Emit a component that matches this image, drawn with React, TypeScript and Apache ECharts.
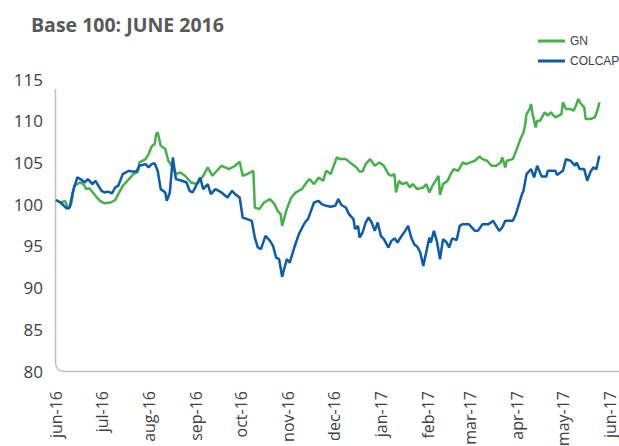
import React, { useEffect, useRef } from "react";
import * as echarts from "echarts";

const titleText = "Base 100: JUNE 2016";
const seriesNames = ["GN", "COLCAP"];
const seriesColors = ["#47b04b", "#0b5cab"];

const monthStarts = [
  "2016-06-01", "2016-07-01", "2016-08-01", "2016-09-01", "2016-10-01", "2016-11-01", "2016-12-01",
  "2017-01-01", "2017-02-01", "2017-03-01", "2017-04-01", "2017-05-01", "2017-06-01",
];
const xTickLabels = [
  "jun-16", "jul-16", "aug-16", "sep-16", "oct-16", "nov-16", "dec-16",
  "jan-17", "feb-17", "mar-17", "apr-17", "may-17", "jun-17",
];

const gnDates = [
  "2016-06-01","2016-06-04","2016-06-07","2016-06-09","2016-06-11","2016-06-13","2016-06-17","2016-06-19","2016-06-21","2016-06-23","2016-06-27","2016-06-30",
  "2016-07-03","2016-07-07","2016-07-10","2016-07-12","2016-07-15","2016-07-19","2016-07-22","2016-07-25","2016-07-26","2016-07-30",
  "2016-08-01","2016-08-03","2016-08-05","2016-08-06","2016-08-07","2016-08-09","2016-08-12","2016-08-14","2016-08-17","2016-08-19","2016-08-22","2016-08-25","2016-08-29",
  "2016-09-02","2016-09-06","2016-09-09","2016-09-12","2016-09-18","2016-09-23","2016-09-27","2016-09-30",
  "2016-10-02","2016-10-05","2016-10-09","2016-10-10","2016-10-13","2016-10-16","2016-10-20","2016-10-23","2016-10-25","2016-10-27","2016-10-28","2016-10-31",
  "2016-11-03","2016-11-06","2016-11-10","2016-11-13","2016-11-15","2016-11-18","2016-11-21","2016-11-24","2016-11-26","2016-11-29",
  "2016-12-03","2016-12-05","2016-12-09","2016-12-13","2016-12-16","2016-12-18","2016-12-20","2016-12-22","2016-12-25","2016-12-28","2016-12-31",
  "2017-01-03","2017-01-06","2017-01-08","2017-01-10","2017-01-11","2017-01-13","2017-01-15","2017-01-18","2017-01-20","2017-01-22","2017-01-25","2017-01-29","2017-01-31",
  "2017-02-02","2017-02-04","2017-02-06","2017-02-08","2017-02-09","2017-02-11","2017-02-14","2017-02-16","2017-02-18","2017-02-21","2017-02-24","2017-02-26",
  "2017-03-01","2017-03-04","2017-03-07","2017-03-09","2017-03-12","2017-03-15","2017-03-18","2017-03-21","2017-03-22","2017-03-24","2017-03-25","2017-03-29",
  "2017-04-01","2017-04-03","2017-04-05","2017-04-06","2017-04-07","2017-04-09","2017-04-10","2017-04-11","2017-04-13","2017-04-14","2017-04-16","2017-04-19","2017-04-21","2017-04-23","2017-04-26","2017-04-30",
  "2017-05-01","2017-05-03","2017-05-06","2017-05-08","2017-05-10","2017-05-11","2017-05-13","2017-05-15","2017-05-16","2017-05-19","2017-05-22","2017-05-24","2017-05-25",
];
const gnValues = [
  100.5,100.2,100.4,99.4,100.0,102.2,102.6,102.4,101.8,101.9,101.0,100.4,
  100.1,100.2,100.5,101.2,102.2,103.0,103.6,103.9,105.0,105.4,
  106.0,106.9,107.2,108.4,108.6,107.0,106.6,105.2,104.4,103.6,103.8,103.4,102.6,
  102.4,103.4,104.4,103.4,104.6,104.2,104.6,105.1,
  103.4,103.6,104.0,99.6,99.4,100.2,100.6,100.0,99.2,98.8,97.4,99.4,
  100.8,101.4,101.8,102.6,103.0,102.4,103.2,102.8,104.0,103.6,
  105.6,105.4,105.4,104.8,104.4,103.9,103.9,104.8,105.4,104.6,105.0,
  104.6,103.6,103.4,103.6,101.4,102.8,102.4,102.6,102.0,102.4,101.8,102.0,102.4,
  101.4,102.2,102.8,103.4,101.1,102.4,102.8,103.6,104.2,104.0,105.0,104.8,
  105.0,105.2,105.7,105.4,105.2,104.6,104.6,105.0,105.6,104.4,105.2,105.4,
  106.8,107.8,108.6,109.4,110.8,111.4,112.0,110.8,109.2,110.0,110.0,111.0,110.6,111.0,110.4,110.8,
  112.2,111.4,111.4,111.2,112.0,112.6,112.0,111.6,110.2,110.2,110.4,111.4,112.2,
];

const colcapDates = [
  "2016-06-01","2016-06-04","2016-06-08","2016-06-10","2016-06-12","2016-06-15","2016-06-18","2016-06-20","2016-06-22","2016-06-25","2016-06-27","2016-06-29",
  "2016-07-01","2016-07-03","2016-07-05","2016-07-08","2016-07-10","2016-07-12","2016-07-15","2016-07-19","2016-07-21","2016-07-24","2016-07-26","2016-07-30",
  "2016-08-01","2016-08-03","2016-08-05","2016-08-07","2016-08-09","2016-08-12","2016-08-13","2016-08-15","2016-08-17","2016-08-19","2016-08-23","2016-08-26","2016-08-28","2016-08-30",
  "2016-09-04","2016-09-06","2016-09-09","2016-09-11","2016-09-14","2016-09-18","2016-09-22","2016-09-25","2016-09-27","2016-09-30",
  "2016-10-02","2016-10-05","2016-10-08","2016-10-10","2016-10-12","2016-10-14","2016-10-17","2016-10-20","2016-10-22","2016-10-24","2016-10-26","2016-10-28","2016-10-31",
  "2016-11-02","2016-11-05","2016-11-08","2016-11-12","2016-11-14","2016-11-16","2016-11-18","2016-11-21","2016-11-23","2016-11-26","2016-11-29",
  "2016-12-02","2016-12-04","2016-12-06","2016-12-09","2016-12-11","2016-12-14","2016-12-15","2016-12-17","2016-12-18","2016-12-20","2016-12-22","2016-12-24","2016-12-26","2016-12-28","2016-12-30",
  "2017-01-01","2017-01-03","2017-01-06","2017-01-08","2017-01-10","2017-01-12","2017-01-14","2017-01-17","2017-01-19","2017-01-21","2017-01-23","2017-01-25","2017-01-27","2017-01-29","2017-01-31",
  "2017-02-02","2017-02-03","2017-02-05","2017-02-07","2017-02-09","2017-02-11","2017-02-13","2017-02-15","2017-02-17","2017-02-20","2017-02-22","2017-02-24","2017-02-28",
  "2017-03-04","2017-03-06","2017-03-09","2017-03-13","2017-03-16","2017-03-18","2017-03-20","2017-03-22","2017-03-24","2017-03-29","2017-03-31",
  "2017-04-02","2017-04-04","2017-04-05","2017-04-07","2017-04-09","2017-04-10","2017-04-12","2017-04-14","2017-04-17","2017-04-20","2017-04-21","2017-04-26","2017-04-27",
  "2017-05-01","2017-05-03","2017-05-06","2017-05-09","2017-05-10","2017-05-12","2017-05-15","2017-05-17","2017-05-19","2017-05-21","2017-05-23","2017-05-25",
];
const colcapValues = [
  100.5,100.2,99.5,99.6,101.4,103.2,102.9,102.6,103.0,102.4,102.8,102.2,
  101.6,101.4,101.5,101.3,102.0,102.2,103.6,104.0,103.9,103.9,104.6,104.8,
  104.4,104.8,104.9,104.0,101.8,101.4,100.4,101.4,105.6,103.0,102.8,102.6,101.6,101.4,
  103.2,101.8,102.4,101.2,101.8,101.4,100.8,101.6,101.2,100.8,
  98.4,98.2,98.0,96.0,94.8,94.6,96.2,95.6,95.0,93.6,93.4,91.3,93.4,
  93.0,94.8,96.4,97.8,98.2,99.2,100.2,100.4,100.0,99.8,99.7,
  99.8,100.6,99.9,99.6,98.8,98.2,97.0,97.4,96.0,96.6,97.8,98.4,97.8,96.8,97.8,
  96.2,95.8,94.8,95.6,95.9,95.4,96.0,96.8,97.4,96.0,95.2,94.9,94.2,92.6,94.3,
  96.0,95.4,96.8,95.5,93.4,95.8,95.5,94.8,95.9,95.7,97.4,97.6,97.6,
  96.8,96.8,97.6,97.6,98.0,97.4,96.8,97.2,98.0,98.0,98.8,
  100.0,101.2,101.6,103.6,104.0,104.2,103.2,104.6,103.3,103.3,104.0,104.0,103.5,
  104.0,105.4,105.2,104.6,105.0,104.2,104.2,102.8,103.8,104.4,104.2,105.8,
];

const yMin = 80;
const yMax = 115;
const yStep = 5;

const parseDate = (s: string) => {
  const [y, m, d] = s.split("-").map(Number);
  return Date.UTC(y, m - 1, d);
};

echarts.graphic.registerShape(
  "axisFrame",
  echarts.graphic.extendPath("M55.5 89 L55.5 362 Q55.5 371.5 65 371.5 L619 371.5", {})
);

export default function App() {
  const ref = useRef<HTMLDivElement>(null);
  useEffect(() => {
    if (!ref.current) return;
    const chart = echarts.init(ref.current, undefined, { renderer: "svg" });
    const monthTs = monthStarts.map(parseDate);
    const toPairs = (dates: string[], vals: number[]) => dates.map((d, i) => [parseDate(d), vals[i]]);
    chart.setOption({
      animation: false,
      backgroundColor: "#ffffff",
      title: {
        text: titleText,
        left: 26,
        top: 9,
        textStyle: { fontFamily: "Open Sans", fontWeight: "bold", fontSize: 19.5, color: "#595959" },
      },
      legend: {
        data: seriesNames,
        orient: "vertical",
        left: 533,
        top: 29,
        icon: "rect",
        itemWidth: 27,
        itemHeight: 3,
        itemGap: 6,
        textStyle: { fontFamily: "Liberation Sans", fontSize: 12, color: "#404040", lineHeight: 14 },
      },
      graphic: [
        {
          type: "axisFrame",
          x: 0,
          y: 0,
          silent: true,
          style: { fill: "none", stroke: "#bfbfbf", lineWidth: 1.5 },
        },
      ],
      grid: { left: 56, right: 9, top: 79, bottom: 75, containLabel: false, outerBoundsMode: "none" },
      xAxis: {
        type: "value",
        min: monthTs[0],
        max: monthTs[monthTs.length - 1],
        axisLine: { show: false },
        axisTick: { show: false },
        splitLine: { show: false },
        axisLabel: {
          customValues: monthTs,
          formatter: (v: number) => {
            const i = monthTs.indexOf(v);
            return i >= 0 ? xTickLabels[i] : "";
          },
          rotate: 90,
          margin: 20,
          fontFamily: "Open Sans",
          fontSize: 16,
          color: "#404040",
          hideOverlap: false,
        },
      },
      yAxis: {
        type: "value",
        min: yMin,
        max: yMax,
        interval: yStep,
        axisLine: { show: false },
        axisTick: { show: false },
        splitLine: { show: false },
        axisLabel: { fontFamily: "Open Sans", fontSize: 17, color: "#404040", margin: 13 },
      },
      series: [
        {
          name: seriesNames[0],
          type: "line",
          data: toPairs(gnDates, gnValues),
          showSymbol: false,
          symbol: "none",
          lineStyle: { width: 2.5, color: seriesColors[0] },
          itemStyle: { color: seriesColors[0] },
        },
        {
          name: seriesNames[1],
          type: "line",
          data: toPairs(colcapDates, colcapValues),
          showSymbol: false,
          symbol: "none",
          lineStyle: { width: 2.5, color: seriesColors[1] },
          itemStyle: { color: seriesColors[1] },
        },
      ],
    });
    return () => chart.dispose();
  }, []);
  return <div ref={ref} style={{ position: "fixed", left: 0, top: 0, width: 619, height: 446 }} />;
}
